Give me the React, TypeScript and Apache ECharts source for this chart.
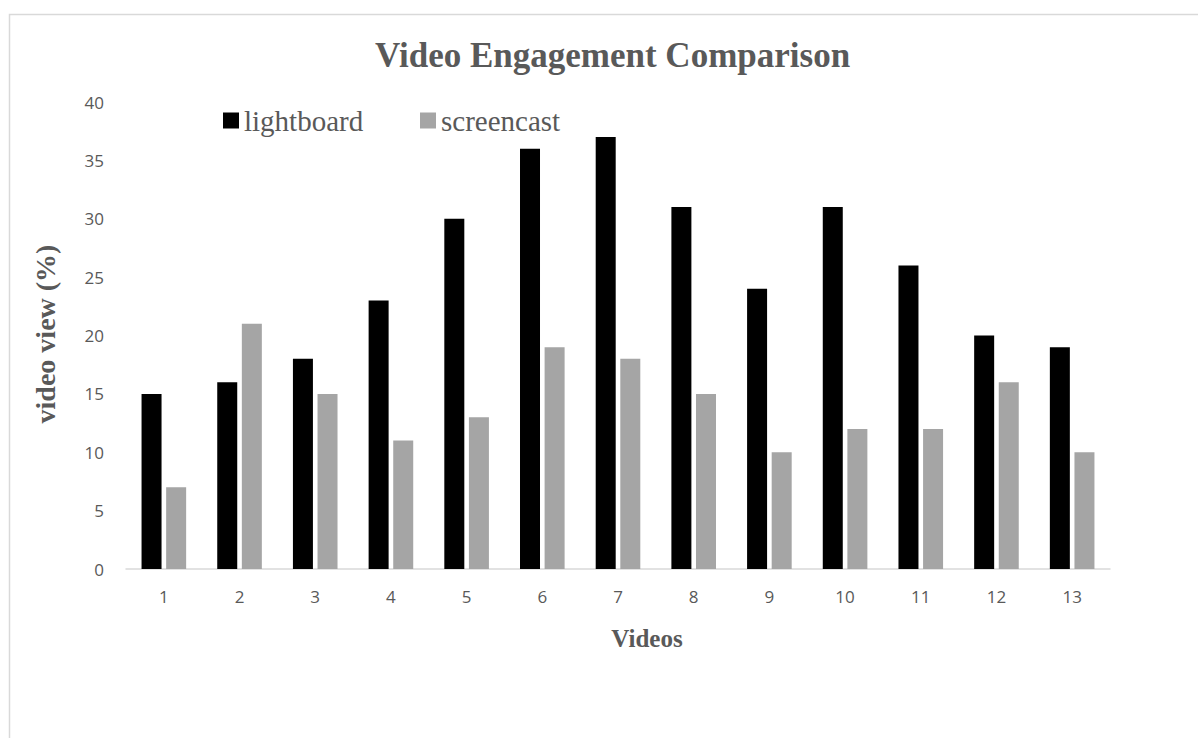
import React, { useEffect, useRef } from "react";
import * as echarts from "echarts";

const categories = ["1", "2", "3", "4", "5", "6", "7", "8", "9", "10", "11", "12", "13"];
const lightboard = [15, 16, 18, 23, 30, 36, 37, 31, 24, 31, 26, 20, 19];
const screencast = [7, 21, 15, 11, 13, 19, 18, 15, 10, 12, 12, 16, 10];
const seriesNames = ["lightboard", "screencast"];
const titleText = "Video Engagement Comparison";
const xTitle = "Videos";
const yTitle = "video view (%)";

const SERIF = "'Liberation Serif', 'DejaVu Serif', serif";
const SANS = "'Open Sans', 'Liberation Sans', sans-serif";
const TEXT = "#595959";

export default function App() {
  const ref = useRef<HTMLDivElement>(null);
  useEffect(() => {
    if (!ref.current) return;
    const chart = echarts.init(ref.current, null, { renderer: "svg" });
    chart.setOption({
      animation: false,
      backgroundColor: "#ffffff",
      title: {
        text: titleText,
        left: 370,
        top: 33,
        textStyle: { fontFamily: SERIF, fontWeight: "bold", fontSize: 35, color: TEXT },
      },
      legend: [
        {
          data: [seriesNames[0]],
          left: 218,
          top: 101,
          itemWidth: 16,
          itemHeight: 16,
          itemGap: 5,
          icon: "rect",
          textStyle: { fontFamily: SERIF, fontSize: 29, color: TEXT },
        },
        {
          data: [seriesNames[1]],
          left: 415,
          top: 101,
          itemWidth: 16,
          itemHeight: 16,
          icon: "rect",
          textStyle: { fontFamily: SERIF, fontSize: 29, color: TEXT },
        },
      ],
      grid: { left: 126, right: 88, top: 102, bottom: 169, containLabel: false },
      xAxis: {
        type: "category",
        data: categories,
        axisLine: { lineStyle: { color: "#d9d9d9", width: 1.5 } },
        axisTick: { show: false },
        axisLabel: { fontFamily: SANS, fontSize: 17, color: TEXT, margin: 19 },
      },
      yAxis: {
        type: "value",
        min: 0,
        max: 40,
        interval: 5,
        axisLine: { show: false },
        axisTick: { show: false },
        splitLine: { show: false },
        axisLabel: { fontFamily: SANS, fontSize: 17, color: TEXT, margin: 22 },
      },
      series: [
        {
          name: seriesNames[0],
          type: "bar",
          data: lightboard,
          barWidth: 20,
          barGap: "23%",
          itemStyle: { color: "#000000" },
        },
        {
          name: seriesNames[1],
          type: "bar",
          data: screencast,
          barWidth: 20,
          barGap: "23%",
          itemStyle: { color: "#a5a5a5" },
        },
      ],
      graphic: [
        {
          type: "rect",
          silent: true,
          shape: { x: 9.5, y: 14.5, width: 1300, height: 800 },
          style: { fill: "none", stroke: "#d9d9d9", lineWidth: 1.5 },
          z: -10,
        },
        {
          type: "text",
          x: 647,
          y: 638,
          style: {
            text: xTitle,
            fontFamily: SERIF,
            fontWeight: "bold",
            fontSize: 25,
            fill: TEXT,
            align: "center",
            verticalAlign: "middle",
          },
        },
        {
          type: "text",
          x: 45,
          y: 334,
          rotation: Math.PI / 2,
          style: {
            text: yTitle,
            fontFamily: SERIF,
            fontWeight: "bold",
            fontSize: 28,
            fill: TEXT,
            align: "center",
            verticalAlign: "middle",
          },
        },
      ],
    });
    return () => chart.dispose();
  }, []);
  return (
    <div
      ref={ref}
      style={{ position: "fixed", left: 0, top: 0, width: 1198, height: 738 }}
    />
  );
}
